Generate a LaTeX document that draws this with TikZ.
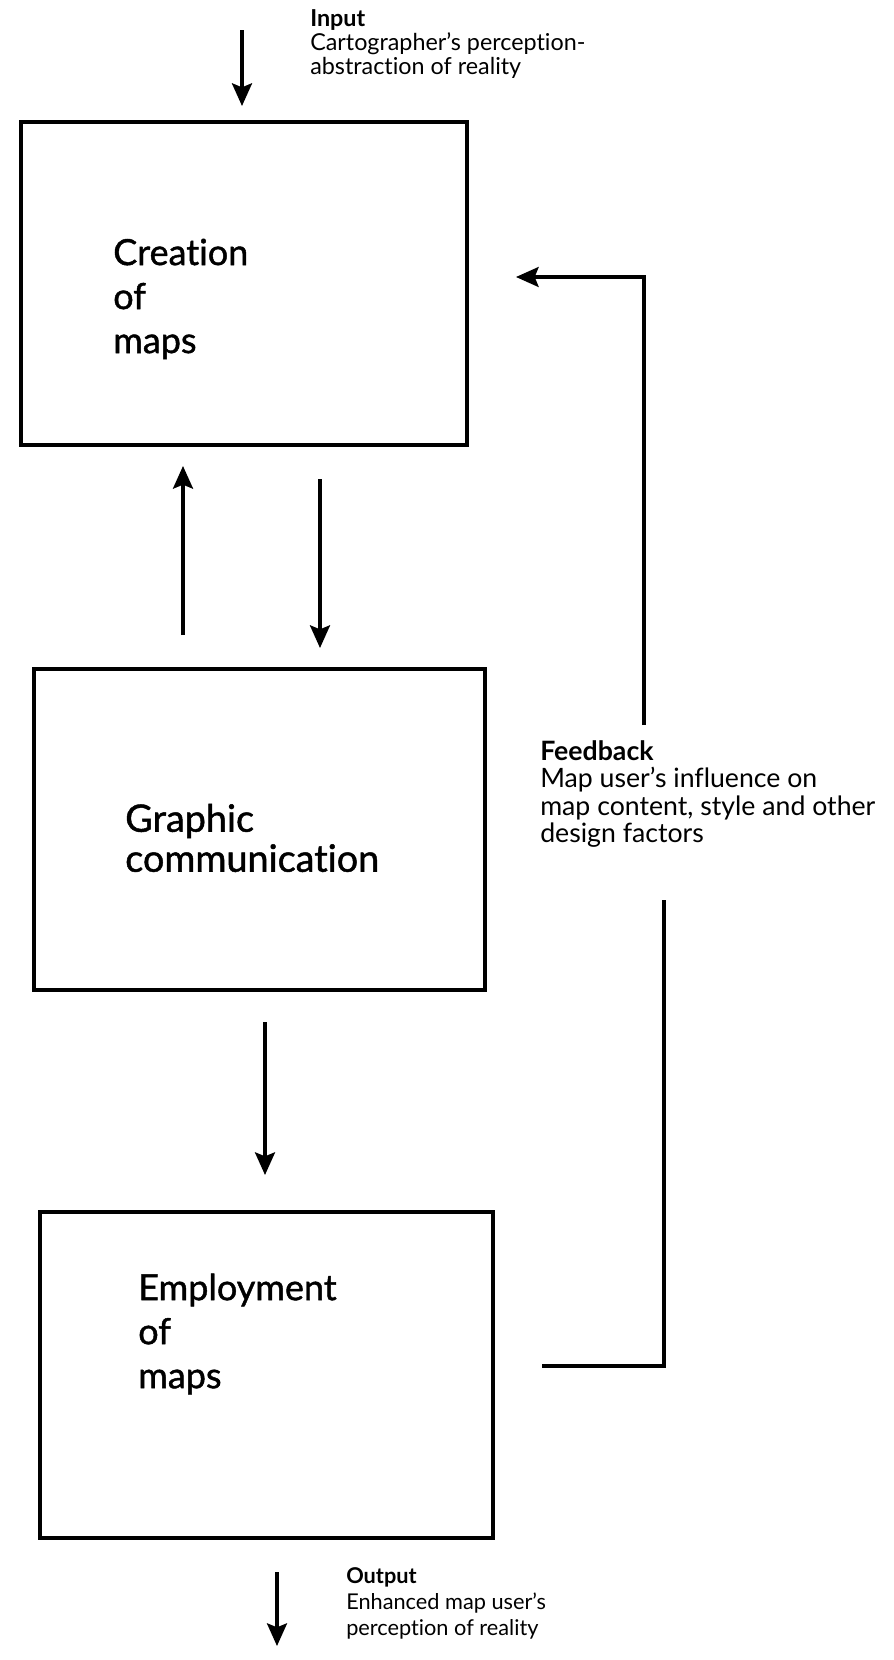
\documentclass[tikz,border=0pt]{standalone}
\usepackage{fontspec}
\setmainfont[Ligatures=NoCommon]{Lato}
\newfontfamily\stagefont[Ligatures=NoCommon, FakeBold=1.2]{Lato}
\usetikzlibrary{arrows.meta}

\tikzset{
  mapbox/.style={draw, line width=2.6pt, rectangle, inner sep=0pt},
  boxlabel/.style={anchor=west, align=left, inner sep=0pt,
    font=\stagefont\fontsize{27}{33}\selectfont},
  note/.style={anchor=north west, align=left, inner sep=0pt},
  tip/.style={-{Stealth[length=17pt, width=15pt, inset=3pt]}},
  flow/.style={line width=2.5pt, tip},
  loop/.style={line width=2.3pt},
}

\begin{document}
\begin{tikzpicture}[x=0.75pt, y=-0.75pt]
  \useasboundingbox (0,0) rectangle (893,1660);

  % the three stages
  \node[mapbox, minimum width=334.5pt, minimum height=242.25pt] (creation) at (244,283.5) {};
  \node[mapbox, minimum width=338.25pt, minimum height=240.75pt] (graphic) at (259.5,829.5) {};
  \node[mapbox, minimum width=339.75pt, minimum height=244.5pt] (employ) at (266.5,1375) {};

  \node[boxlabel] (creationtxt) at (113,299) {Creation\\of\\maps};
  \node[boxlabel, font=\stagefont\fontsize{28.3}{30}\selectfont] (graphictxt) at (125,838) {Graphic\\communication};
  \node[boxlabel] (employtxt) at (138,1334) {Employment\\of\\maps};

  % input
  \coordinate (inA) at (242,30);
  \coordinate (inB) at (242,106);
  \draw[flow] (inA) -- (inB);
  \node[note, font=\fontsize{17.5}{18}\selectfont] (input) at (310,9)
    {\textbf{Input}\\Cartographer's perception-\\abstraction of reality};

  % exchange between creation and communication
  \coordinate (upA) at (183,635);
  \coordinate (upB) at (183,466);
  \draw[flow] (upA) -- (upB);
  \coordinate (dnA) at (320,479);
  \coordinate (dnB) at (320,648);
  \draw[flow] (dnA) -- (dnB);

  % communication to employment
  \coordinate (dn2A) at (265,1022);
  \coordinate (dn2B) at (265,1175);
  \draw[flow] (dn2A) -- (dn2B);

  % output
  \coordinate (outA) at (277,1572);
  \coordinate (outB) at (277,1646);
  \draw[flow] (outA) -- (outB);
  \node[note, font=\fontsize{16.3}{19.8}\selectfont] (output) at (346,1567)
    {\textbf{Output}\\Enhanced map user's\\perception of reality};

  % feedback loop
  \node[note, font=\fontsize{20}{20.6}\selectfont] (feedback) at (540,740)
    {\textbf{Feedback}\\Map user's influence on\\map content, style and other\\design factors};
  \coordinate (fbA) at (542,1366);
  \coordinate (fbB) at (664,1366);
  \coordinate (fbC) at (664,900);
  \draw[loop] (fbA) -- (fbB) -- (fbC);
  \coordinate (fbD) at (644,725);
  \coordinate (fbE) at (644,277);
  \coordinate (fbF) at (516,277);
  \draw[loop, tip] (fbD) -- (fbE) -- (fbF);
\end{tikzpicture}
\end{document}
